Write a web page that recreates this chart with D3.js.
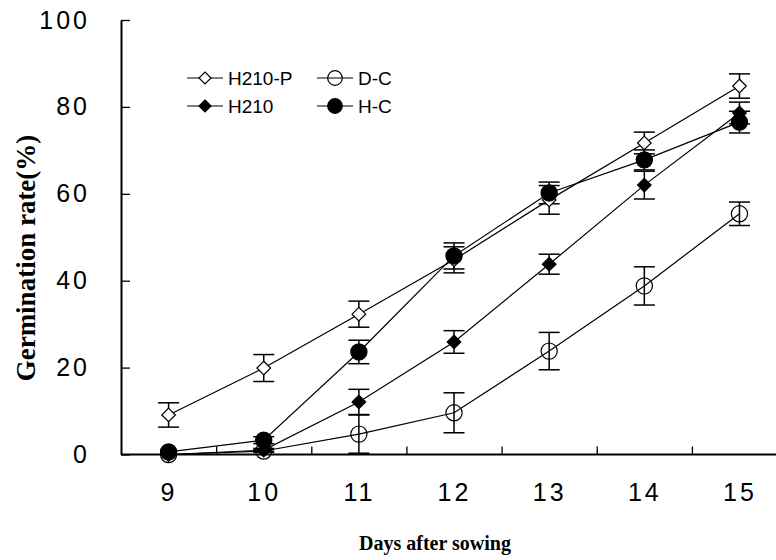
<!DOCTYPE html>
<html>
<head>
<meta charset="utf-8">
<script src="https://cdn.jsdelivr.net/npm/d3@7"></script>
<style>
  body { margin: 0; background: #fff; }
  svg { display: block; }
</style>
</head>
<body>
<div id="chart"></div>
<script>
// days after sowing
const days = [9, 10, 11, 12, 13, 14, 15];
const yTicks = [0, 20, 40, 60, 80, 100];

// germination rate (%) and error for each treatment
const h210p = [9.1, 19.9, 32.3, 44.8, 58.6, 71.7, 84.8];
const h210pErr = [2.8, 3.1, 3.0, 3.0, 3.3, 2.5, 2.8];
const h210 = [0, 1.0, 12.1, 25.9, 43.8, 62.0, 78.6];
const h210Err = [0, 0.4, 2.9, 2.6, 2.3, 3.2, 2.5];
const dc = [0, 0.8, 4.7, 9.6, 23.8, 38.8, 55.4];
const dcErr = [0, 0.3, 4.4, 4.6, 4.3, 4.4, 2.7];
const hc = [0.6, 3.3, 23.6, 45.7, 60.2, 67.8, 76.5];
const hcErr = [0, 0.8, 2.7, 3.0, 2.5, 2.3, 2.5];

const series = [
  { name: 'H210-P', values: h210p, err: h210pErr, shape: 'diamond', fill: '#fff' },
  { name: 'D-C', values: dc, err: dcErr, shape: 'circle', fill: 'none' },
  { name: 'H210', values: h210, err: h210Err, shape: 'diamond', fill: '#000' },
  { name: 'H-C', values: hc, err: hcErr, shape: 'circle', fill: '#000' }
];

const margin = { top: 20, right: 0, bottom: 105.5, left: 121 };
const totalW = 776, totalH = 560;
const width = totalW - margin.left - margin.right;
const height = totalH - margin.top - margin.bottom;
const step = 95.15;

const svg = d3.select('#chart')
  .append('svg')
  .attr('width', totalW)
  .attr('height', totalH)
  .append('g')
  .attr('transform', `translate(${margin.left},${margin.top})`);

const x = d3.scaleLinear()
  .domain([8.5, 15.5])
  .range([0, 7 * step]);

const y = d3.scaleLinear()
  .domain([0, 100])
  .range([height, 0]);

function drawMarker(g, d, cx, cy, size) {
  if (d.shape === 'circle') {
    g.append('circle')
      .attr('cx', cx).attr('cy', cy).attr('r', size + 1.3)
      .attr('fill', d.fill)
      .attr('stroke', '#000')
      .attr('stroke-width', 1.2);
  } else {
    g.append('path')
      .attr('d', `M${cx},${cy - size}L${cx + size},${cy}L${cx},${cy + size}L${cx - size},${cy}Z`)
      .attr('fill', d.fill)
      .attr('stroke', '#000')
      .attr('stroke-width', 1.2);
  }
}

// x axis: category boundary ticks pointing up
const xAxisG = svg.append('g')
  .attr('transform', `translate(0,${height})`)
  .call(d3.axisBottom(x)
    .tickValues(days.slice(0, -1).map(d => d + 0.5))
    .tickSizeInner(-8)
    .tickSizeOuter(0)
    .tickFormat(''));
xAxisG.select('.domain').attr('stroke-width', 2).attr('d', `M0,0H${width + 20}`);
xAxisG.selectAll('.tick line').attr('stroke-width', 1.3);

// x tick labels
const xLabelG = svg.append('g')
  .attr('transform', `translate(0,${height})`)
  .call(d3.axisBottom(x).tickValues(days).tickSize(0).tickPadding(29).tickFormat(d3.format('d')));
xLabelG.select('.domain').remove();
xLabelG.selectAll('text')
  .attr('fill', '#000')
  .style('font-family', '"Liberation Sans", Arial, sans-serif')
  .style('font-size', '25px')
  .style('letter-spacing', '3px');

// y axis: ticks pointing right
const yAxisG = svg.append('g')
  .call(d3.axisLeft(y)
    .tickValues(yTicks)
    .tickSizeInner(-9)
    .tickSizeOuter(0)
    .tickPadding(31)
    .tickFormat(d3.format('d')));
yAxisG.select('.domain').attr('stroke-width', 2);
yAxisG.selectAll('.tick line').attr('stroke-width', 1.3);
yAxisG.selectAll('text')
  .attr('fill', '#000')
  .style('font-family', '"Liberation Sans", Arial, sans-serif')
  .style('font-size', '25px')
  .style('letter-spacing', '3px');

// axis titles
svg.append('text')
  .attr('transform', 'rotate(-90)')
  .attr('x', -(258 - margin.top))
  .attr('y', 26 - margin.left + 9)
  .attr('fill', '#000')
  .style('text-anchor', 'middle')
  .style('font-family', '"Liberation Serif", "Times New Roman", serif')
  .style('font-weight', 'bold')
  .style('font-size', '27px')
  .text('Germination rate(%)');

svg.append('text')
  .attr('x', 435 - margin.left)
  .attr('y', 550 - margin.top)
  .attr('fill', '#000')
  .style('text-anchor', 'middle')
  .style('font-family', '"Liberation Serif", "Times New Roman", serif')
  .style('font-weight', 'bold')
  .style('font-size', '20px')
  .text('Days after sowing');

// lines
const line = d3.line()
  .x((d, i) => x(days[i]))
  .y(d => y(d));

svg.selectAll('.series-line')
  .data(series)
  .enter().append('path')
  .attr('class', 'series-line')
  .attr('d', d => line(d.values))
  .attr('fill', 'none')
  .attr('stroke', '#000')
  .attr('stroke-width', 1.2);

// error bars
const capHalf = 10.5;
series.forEach(s => {
  const g = svg.append('g').attr('class', 'err');
  s.values.forEach((v, i) => {
    const e = s.err[i];
    if (!e) return;
    const cx = x(days[i]);
    g.append('line')
      .attr('x1', cx).attr('x2', cx)
      .attr('y1', y(v - e)).attr('y2', y(v + e))
      .attr('stroke', '#000').attr('stroke-width', 1.5);
    [v - e, v + e].forEach(t => {
      g.append('line')
        .attr('x1', cx - capHalf).attr('x2', cx + capHalf)
        .attr('y1', y(t)).attr('y2', y(t))
        .attr('stroke', '#000').attr('stroke-width', 1.5);
    });
  });
});

// markers
series.forEach(s => {
  const g = svg.append('g').attr('class', 'markers');
  s.values.forEach((v, i) => drawMarker(g, s, x(days[i]), y(v), 6.8));
});

// legend
const legendItems = [
  { s: series[0], col: 0, row: 0 },
  { s: series[1], col: 1, row: 0 },
  { s: series[2], col: 0, row: 1 },
  { s: series[3], col: 1, row: 1 }
];
const legend = svg.append('g')
  .attr('transform', `translate(${187 - margin.left},${78 - margin.top})`);
legendItems.forEach(item => {
  const g = legend.append('g')
    .attr('transform', `translate(${item.col * 130},${item.row * 28})`);
  g.append('line')
    .attr('x1', 0).attr('x2', 36)
    .attr('y1', 0).attr('y2', 0)
    .attr('stroke', '#000').attr('stroke-width', 1.2);
  drawMarker(g, item.s, 18, 0, 6);
  g.append('text')
    .attr('x', 41)
    .attr('y', 0)
    .attr('dy', '0.35em')
    .attr('fill', '#000')
    .style('font-family', '"Liberation Sans", Arial, sans-serif')
    .style('font-size', '19px')
    .text(item.s.name);
});
</script>
</body>
</html>
